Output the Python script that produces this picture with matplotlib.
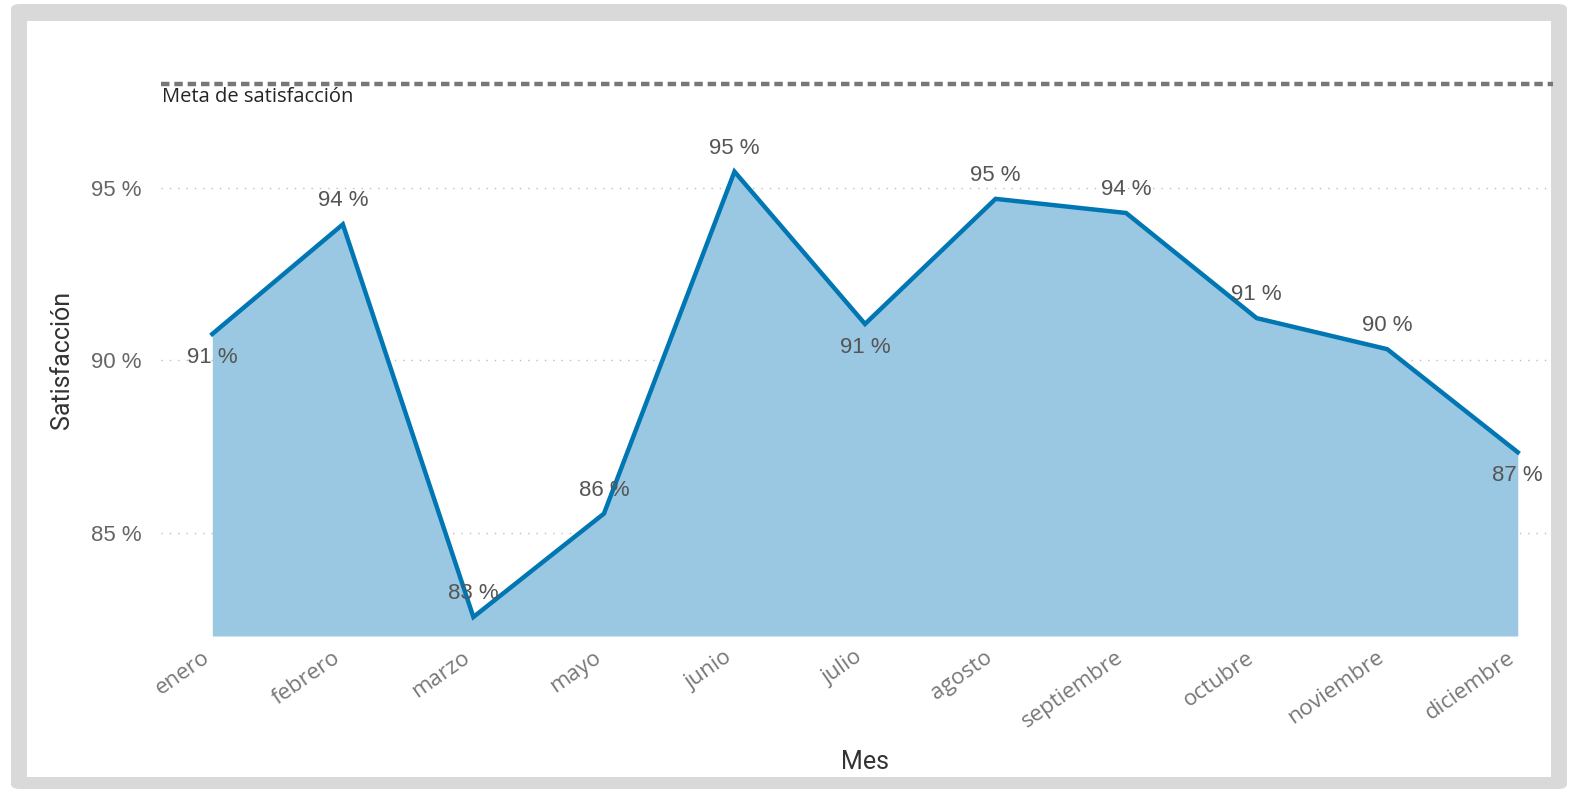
import matplotlib
matplotlib.use("Agg")
import matplotlib.pyplot as plt
from matplotlib.patches import FancyBboxPatch, Rectangle

# datos del gráfico
meses = ["enero", "febrero", "marzo", "mayo", "junio", "julio", "agosto",
         "septiembre", "octubre", "noviembre", "diciembre"]
satisfaccion = [90.76, 93.94, 82.55, 85.55, 95.47, 91.05, 94.68, 94.27, 91.22, 90.32, 87.33]
# posicion de la etiqueta: 1 arriba, -1 abajo
pos_etiqueta = [-1, 1, 1, 1, 1, -1, 1, 1, 1, 1, -1]
meta = 98.0
y_ticks = [85, 90, 95]

W, H = 1575, 789
fig = plt.figure(figsize=(W / 100, H / 100), dpi=100, facecolor="white")

# marco gris redondeado
fig.patches.append(FancyBboxPatch((11 / W, 0 / H), 1556 / W, 785 / H,
                                  boxstyle="round,pad=0,rounding_size=0.006",
                                  transform=fig.transFigure, facecolor="#D9D9D9",
                                  edgecolor="none", zorder=-3))
fig.patches.append(Rectangle((27 / W, 12 / H), 1524 / W, 756 / H,
                             transform=fig.transFigure, facecolor="white",
                             edgecolor="none", zorder=-2))

ax = fig.add_axes([161 / W, 1 - 636 / H, (1553 - 161) / W, (636 - 70.6) / H])
ax.set_facecolor("none")

x = list(range(len(meses)))
ax.fill_between(x, satisfaccion, 82, color="#9AC7E2", linewidth=0, zorder=2)
ax.plot(x, satisfaccion, color="#0076B3", linewidth=3.2, solid_joinstyle="miter", zorder=3)
ax.axhline(meta, color="#777777", linewidth=3.2, linestyle=(0, (1.9, 1.1)), zorder=3)

for yv in y_ticks:
    ax.axhline(yv, color="#BDBDBD", linewidth=1, linestyle=(0, (1, 5)), zorder=1)

ax.text(162 / W, 1 - 97 / H, "Meta de satisfacción", transform=fig.transFigure,
        fontsize=14.5, color="#252423", family="Open Sans", va="center", ha="left")

for xi, v, p in zip(x, satisfaccion, pos_etiqueta):
    ax.annotate(f"{round(v):.0f} %", (xi, v), xytext=(0, 17 * p), textcoords="offset points",
                ha="center", va="center", fontsize=16, color="#555555",
                family="Liberation Sans", zorder=4)

ax.set_xlim(-0.393, 10.27)
ax.set_ylim(82, 98.4)
ax.set_yticks(y_ticks)
ax.set_yticklabels([f"{t} %" for t in y_ticks], fontsize=16, color="#666666",
                   family="Liberation Sans")
ax.set_xticks(x)
ax.tick_params(axis="x", labelbottom=False)

# etiquetas del eje x giradas, desplazadas a la izquierda del tick
for xi, m in zip(x, meses):
    ax.annotate(m, (xi, 0), xycoords=ax.get_xaxis_transform(),
                xytext=(-8, -8), textcoords="offset points",
                rotation=35, rotation_mode="anchor", ha="right", va="top",
                fontsize=16, color="#777777", family="Open Sans", annotation_clip=False)

ax.tick_params(axis="both", length=0)
ax.tick_params(axis="y", pad=14)
for s in ax.spines.values():
    s.set_visible(False)

fig.text(865 / W, 1 - 762 / H, "Mes", fontsize=18, color="#333333",
         family="Roboto", ha="center", va="center")
fig.text(62 / W, 1 - 360 / H, "Satisfacción", fontsize=18, color="#333333",
         family="Roboto", ha="center", va="center", rotation=90)

fig.savefig("out.png", dpi=100, facecolor="white")
